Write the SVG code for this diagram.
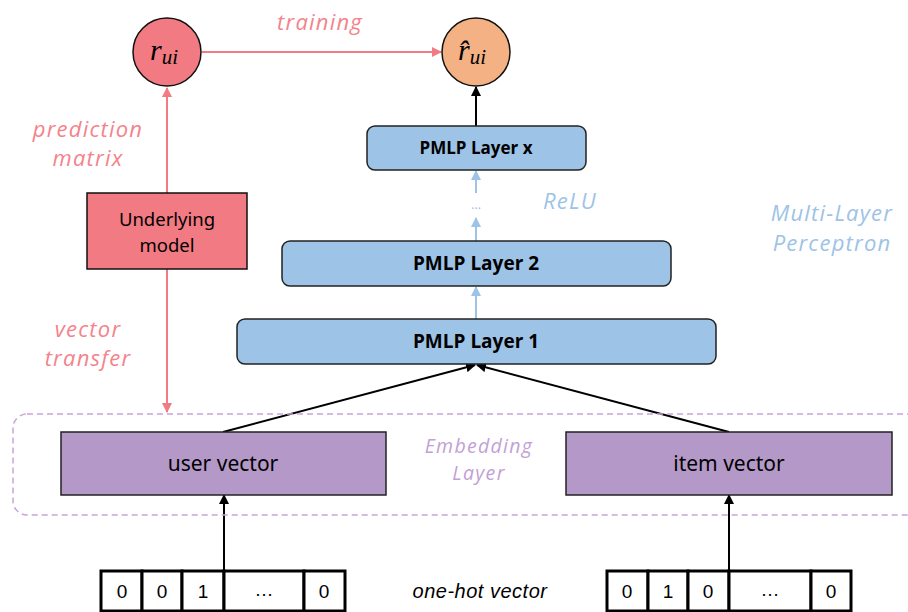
<svg xmlns="http://www.w3.org/2000/svg" width="908" height="612" viewBox="0 0 908 612">
<defs>
<marker id="ap" viewBox="0 0 10 10" refX="9" refY="5" markerWidth="5" markerHeight="5" orient="auto"><path d="M0,0L10,5L0,10z" fill="#F27A84"/></marker>
<marker id="ab" viewBox="0 0 10 10" refX="9" refY="5" markerWidth="5" markerHeight="5" orient="auto"><path d="M0,0L10,5L0,10z" fill="#000"/></marker>
<marker id="al" viewBox="0 0 10 10" refX="9" refY="5" markerWidth="5" markerHeight="5" orient="auto"><path d="M0,0L10,5L0,10z" fill="#9DC3E6"/></marker>
</defs>
<style>
.lbl{font-family:"Open Sans","Noto Sans",sans-serif;font-style:italic;font-size:22px;letter-spacing:1.2px;text-anchor:middle}
.pk{fill:#F4838C}
.bl{fill:#9DC3E6}
.pu{fill:#C29FD6}
.emb{font-size:19.5px;letter-spacing:1.3px}
.layer{fill:#9DC3E6;stroke:#222;stroke-width:1.5}
.lt{font-family:"Open Sans","Noto Sans",sans-serif;font-weight:bold;font-size:19px;text-anchor:middle;fill:#000}
.ltx{font-size:17px}
.vec{fill:#B499C8;stroke:#222;stroke-width:1.5}
.vt{font-family:"Noto Sans","Open Sans",sans-serif;font-size:21px;text-anchor:middle;fill:#000}
.um{font-size:18.5px}
.cell{fill:#fff;stroke:#000;stroke-width:3}
.ct{font-family:"Liberation Sans",Arial,sans-serif;font-size:19px;text-anchor:middle;fill:#000}
.math{font-family:"Liberation Serif","Times New Roman",serif;font-style:italic;fill:#000;font-size:30px}
.sub{font-size:21px}
</style>
<g id="connectors" fill="none">
<line x1="202" y1="52" x2="441" y2="52" stroke="#F27A84" stroke-width="2" marker-end="url(#ap)"/>
<line x1="167" y1="193" x2="167" y2="88" stroke="#F27A84" stroke-width="2" marker-end="url(#ap)"/>
<line x1="167" y1="269" x2="167" y2="412" stroke="#F27A84" stroke-width="2" marker-end="url(#ap)"/>
<line x1="476" y1="126" x2="476" y2="87" stroke="#000" stroke-width="2" marker-end="url(#ab)"/>
<line x1="476" y1="193" x2="476" y2="171" stroke="#9DC3E6" stroke-width="2" marker-end="url(#al)"/>
<line x1="476" y1="241" x2="476" y2="218" stroke="#9DC3E6" stroke-width="2" marker-end="url(#al)"/>
<line x1="476" y1="319" x2="476" y2="287" stroke="#9DC3E6" stroke-width="2" marker-end="url(#al)"/>
<line x1="223" y1="432" x2="475" y2="365" stroke="#000" stroke-width="2" marker-end="url(#ab)"/>
<line x1="729" y1="432" x2="477" y2="365" stroke="#000" stroke-width="2" marker-end="url(#ab)"/>
<line x1="224" y1="570" x2="224" y2="495" stroke="#000" stroke-width="2" marker-end="url(#ab)"/>
<line x1="729" y1="570" x2="729" y2="495" stroke="#000" stroke-width="2" marker-end="url(#ab)"/>
<text x="476" y="209" font-family="Open Sans,sans-serif" font-size="13" fill="#9DC3E6" text-anchor="middle" stroke="none">…</text>
</g>
<g id="embedding-layer">
<rect x="13" y="414" width="920" height="101" rx="14" fill="none" stroke="#C9A3DB" stroke-width="1.5" stroke-dasharray="6,4"/>
<text class="lbl pu emb" x="479" y="453">Embedding</text>
<text class="lbl pu emb" x="479" y="480">Layer</text>
</g>
<g id="r_ui">
<circle cx="167" cy="52" r="34" fill="#F27A82" stroke="#111" stroke-width="1.5"/>
<text class="math" x="150" y="60">r<tspan class="sub" dy="4">ui</tspan></text>
</g>
<g id="r_hat_ui">
<circle cx="476" cy="52" r="34" fill="#F4B183" stroke="#111" stroke-width="1.5"/>
<text class="math" x="458" y="60">r̂<tspan class="sub" dy="4">ui</tspan></text>
</g>
<g id="training-label"><text class="lbl pk" x="320" y="30">training</text></g>
<g id="underlying-model">
<rect x="87" y="193" width="160" height="76" fill="#F27A82" stroke="#111" stroke-width="1.5"/>
<text class="vt um" x="167" y="226">Underlying</text>
<text class="vt um" x="167" y="252">model</text>
</g>
<g id="prediction-label">
<text class="lbl pk" x="88" y="137">prediction</text>
<text class="lbl pk" x="88" y="166">matrix</text>
</g>
<g id="vector-transfer-label">
<text class="lbl pk" x="88" y="337">vector</text>
<text class="lbl pk" x="88" y="366">transfer</text>
</g>
<g id="pmlp-x">
<rect class="layer" x="367" y="126" width="219" height="44" rx="8"/>
<text class="lt ltx" x="476" y="154">PMLP Layer x</text>
</g>
<g id="pmlp-2">
<rect class="layer" x="282" y="241" width="389" height="45" rx="8"/>
<text class="lt" x="476" y="270">PMLP Layer 2</text>
</g>
<g id="pmlp-1">
<rect class="layer" x="237" y="319" width="479" height="45" rx="8"/>
<text class="lt" x="476" y="348">PMLP Layer 1</text>
</g>
<g id="relu-label"><text class="lbl bl" x="570" y="209">ReLU</text></g>
<g id="mlp-label">
<text class="lbl bl" x="832" y="221">Multi-Layer</text>
<text class="lbl bl" x="832" y="251">Perceptron</text>
</g>
<g id="user-vector">
<rect class="vec" x="61" y="432" width="325" height="63"/>
<text class="vt" x="223" y="471">user vector</text>
</g>
<g id="item-vector">
<rect class="vec" x="566" y="432" width="326" height="63"/>
<text class="vt" x="729" y="471">item vector</text>
</g>
<g id="user-onehot">
<rect class="cell" x="101" y="571" width="41" height="40"/>
<rect class="cell" x="142" y="571" width="40" height="40"/>
<rect class="cell" x="182" y="571" width="42" height="40"/>
<rect class="cell" x="224" y="571" width="80" height="40"/>
<rect class="cell" x="304" y="571" width="41" height="40"/>
<text class="ct" x="122" y="598">0</text>
<text class="ct" x="162" y="598">0</text>
<text class="ct" x="203" y="598">1</text>
<text class="ct" x="264" y="596">…</text>
<text class="ct" x="324" y="598">0</text>
</g>
<g id="onehot-label"><text x="480" y="598" font-family="Liberation Sans,Arial,sans-serif" font-style="italic" font-size="20" letter-spacing="0.5" text-anchor="middle" fill="#000">one-hot vector</text></g>
<g id="item-onehot">
<rect class="cell" x="607" y="571" width="41" height="40"/>
<rect class="cell" x="648" y="571" width="40" height="40"/>
<rect class="cell" x="688" y="571" width="41" height="40"/>
<rect class="cell" x="729" y="571" width="82" height="40"/>
<rect class="cell" x="811" y="571" width="40" height="40"/>
<text class="ct" x="627" y="598">0</text>
<text class="ct" x="668" y="598">1</text>
<text class="ct" x="708" y="598">0</text>
<text class="ct" x="770" y="596">…</text>
<text class="ct" x="831" y="598">0</text>
</g>
</svg>
